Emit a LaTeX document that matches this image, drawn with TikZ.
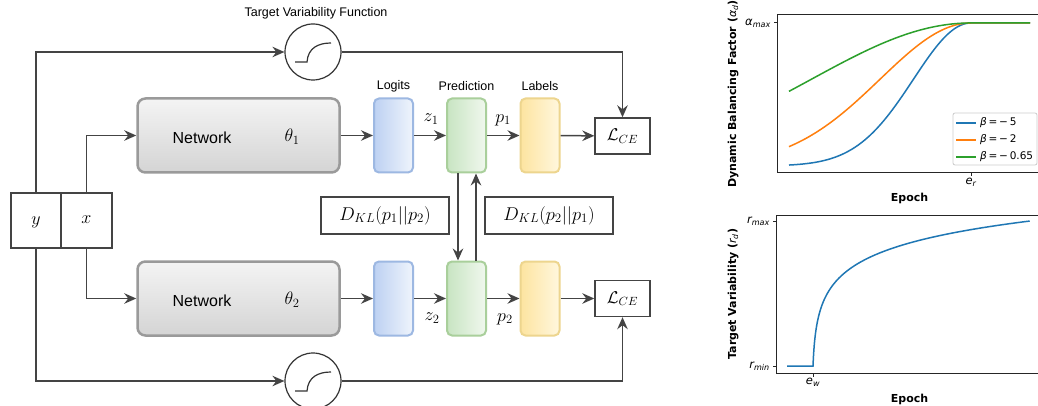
\RequirePackage{fix-cm}
\documentclass[tikz,border=0pt]{standalone}
\usepackage{fontspec}
\usetikzlibrary{arrows.meta}
\newfontfamily\hv{Liberation Sans}
\newfontfamily\djv{DejaVu Sans}
\definecolor{conn}{HTML}{444444}
\definecolor{netdraw}{HTML}{9A9A9A}
\definecolor{nettop}{HTML}{F4F4F4}
\definecolor{netbot}{HTML}{D4D4D4}
\definecolor{bluedraw}{HTML}{9DB8E2}
\definecolor{blueL}{HTML}{BDD1F2}
\definecolor{blueR}{HTML}{EFF4FC}
\definecolor{greendraw}{HTML}{A9CF9B}
\definecolor{greenL}{HTML}{C8E4C2}
\definecolor{greenR}{HTML}{F0F8EE}
\definecolor{yeldraw}{HTML}{EDD58E}
\definecolor{yelL}{HTML}{FDE4A0}
\definecolor{yelR}{HTML}{FFF7DE}
\definecolor{mplblue}{HTML}{1F77B4}
\definecolor{mplorange}{HTML}{FF7F0E}
\definecolor{mplgreen}{HTML}{2CA02C}
\tikzset{
  conn/.style={draw=conn, line width=1.5pt, -{Stealth[length=12pt,width=10.5pt,inset=4pt]}},
  netbox/.style={rectangle, rounded corners=8pt, draw=netdraw, line width=2.5pt,
    top color=nettop, bottom color=netbot, minimum width=202pt, minimum height=74pt},
  smallbox/.style={rectangle, rounded corners=5pt, line width=2pt, minimum width=39pt, minimum height=74pt},
  logitbox/.style={smallbox, draw=bluedraw, left color=blueL, right color=blueR},
  predbox/.style={smallbox, draw=greendraw, left color=greenL, right color=greenR},
  labelbox/.style={smallbox, draw=yeldraw, left color=yelL, right color=yelR},
  plainbox/.style={rectangle, draw=conn, line width=1.4pt, fill=white, inner sep=0pt},
  mathlbl/.style={font=\fontsize{18}{20}\selectfont, inner sep=0pt},
  sanslbl/.style={font=\hv\fontsize{12.5}{14}\selectfont, inner sep=0pt},
  netlbl/.style={font=\hv\fontsize{16}{18}\selectfont, inner sep=0pt},
  funccirc/.style={circle, draw=black!80, line width=1.2pt, fill=white, minimum size=56pt, inner sep=0pt},
  stepcurve/.style={draw=black!80, line width=1.2pt},
  axlbl/.style={font=\djv\bfseries\fontsize{11}{13}\selectfont, inner sep=0pt},
  ticklbl/.style={font=\djv\fontsize{11.5}{13}\selectfont, inner sep=0pt},
  leglbl/.style={font=\djv\fontsize{10.5}{12}\selectfont, inner sep=0pt, anchor=west},
  spine/.style={draw=black!85, line width=1pt},
  curve/.style={line width=1.5pt},
}
\begin{document}
\begin{tikzpicture}[x=1pt,y=-1pt]
\useasboundingbox (0,0) rectangle (1038,406);
\fill[white] (0,0) rectangle (1038,406);

% ---------- left diagram ----------
\node[plainbox, minimum width=50pt, minimum height=55pt] (ycell) at (36,220.5) {};
\node[plainbox, minimum width=51pt, minimum height=55pt] (xcell) at (86.5,220.5) {};
\node[mathlbl] (ytext) at (36,222) {$y$};
\node[mathlbl] (xtext) at (86.5,220) {$x$};

\node[netbox] (net1) at (238.5,135.5) {};
\node[netbox] (net2) at (238.5,298.5) {};
\node[netlbl] (nt1) at (202,138) {Network};
\node[netlbl] (nt2) at (202,301) {Network};
\node[mathlbl] (th1) at (292,137) {$\theta_1$};
\node[mathlbl] (th2) at (292,300) {$\theta_2$};

\node[logitbox] (lg1) at (393.5,135.5) {};
\node[predbox] (pr1) at (466.5,135.5) {};
\node[labelbox] (lb1) at (540,135.5) {};
\node[logitbox] (lg2) at (393.5,298.5) {};
\node[predbox] (pr2) at (466.5,298.5) {};
\node[labelbox] (lb2) at (540,298.5) {};

\node[sanslbl] (tlg) at (393.5,86) {Logits};
\node[sanslbl] (tpr) at (466.5,86) {Prediction};
\node[sanslbl] (tlb) at (540,86) {Labels};
\node[sanslbl] (title) at (316,13) {Target Variability Function};

\node[plainbox, minimum width=55pt, minimum height=36pt] (lce1) at (622.5,136) {\fontsize{17}{19}\selectfont$\mathcal{L}_{CE}$};
\node[plainbox, minimum width=55pt, minimum height=36pt] (lce2) at (622.5,298.5) {\fontsize{17}{19}\selectfont$\mathcal{L}_{CE}$};

\node[plainbox, minimum width=128pt, minimum height=37pt] (kl1) at (385,215.5) {\fontsize{18.5}{20}\selectfont$D_{KL}(p_1||p_2)$};
\node[plainbox, minimum width=128pt, minimum height=37pt] (kl2) at (549,215.5) {\fontsize{18.5}{20}\selectfont$D_{KL}(p_2||p_1)$};

\node[mathlbl] (z1) at (431,119) {$z_1$};
\node[mathlbl] (p1) at (503,120) {$p_1$};
\node[mathlbl] (z2) at (432,318) {$z_2$};
\node[mathlbl] (p2) at (505,319) {$p_2$};

\node[funccirc] (circ1) at (313,52) {};
\node[funccirc] (circ2) at (313,381) {};
\begin{scope}[shift={(circ1.center)}]
  \draw[stepcurve] (-18,10) -- (-6,10) .. controls (-5,-4) and (5,-9) .. (18,-9);
\end{scope}
\begin{scope}[shift={(circ2.center)}]
  \draw[stepcurve] (-18,10) -- (-6,10) .. controls (-5,-4) and (5,-9) .. (18,-9);
\end{scope}

% connectors
\draw[conn] (net1) -- (lg1);
\draw[conn] (lg1) -- (pr1);
\draw[conn] (pr1) -- (lb1);
\draw[conn] (lb1) -- (lce1);
\draw[conn] (net2) -- (lg2);
\draw[conn] (lg2) -- (pr2);
\draw[conn] (pr2) -- (lb2);
\draw[conn] (lb2) -- (lce2);
\draw[conn] ([xshift=-8.5pt]pr1.south) -- ([xshift=-8.5pt]pr2.north);
\draw[conn] ([xshift=9.5pt]pr2.north) -- ([xshift=9.5pt]pr1.south);
\draw[conn] (xcell.north) |- (net1);
\draw[conn] (xcell.south) |- (net2);
\draw[conn] (ycell.north) |- (circ1);
\draw[conn] (circ1) -| (lce1);
\draw[conn] (ycell.south) |- (circ2);
\draw[conn] (circ2) -| (lce2);

% ---------- top plot ----------
\draw[curve, mplblue] plot[domain=0:1, samples=80] ({789+182*\x},{166-143*exp(-5*(1-\x)^2)}) -- (1030,23);
\draw[curve, mplorange] plot[domain=0:1, samples=80] ({789+182*\x},{166-143*exp(-2*(1-\x)^2)}) -- (1030,23);
\draw[curve, mplgreen] plot[domain=0:1, samples=80] ({789+182*\x},{166-143*exp(-0.65*(1-\x)^2)}) -- (1030,23);
\draw[spine] (1042,15) -- (777,15) -- (777,173) -- (1042,173);
\draw[spine] (777,23) -- (773.5,23);
\draw[spine] (971,173) -- (971,176.5);
\node[ticklbl, anchor=east] (amax) at (771,23) {\itshape α\textsubscript{max}};
\node[ticklbl, anchor=north] (er) at (971,178) {\itshape e\textsubscript{r}};
\node[axlbl] (ep1) at (909.5,198) {Epoch};
\node[axlbl, rotate=90] (yl1) at (733,94) {Dynamic Balancing Factor ({\mdseries\itshape α\textsubscript{d}})};
% legend
\draw[rounded corners=2pt, draw=black!20, fill=white, line width=0.8pt] (953,113) rectangle (1037,165);
\draw[curve, mplblue] (956,123) -- (976,123);
\draw[curve, mplorange] (956,140) -- (976,140);
\draw[curve, mplgreen] (956,157) -- (976,157);
\node[leglbl] (lg-a) at (980,123) {{\itshape β}\,=\,−\,5};
\node[leglbl] (lg-b) at (980,140) {{\itshape β}\,=\,−\,2};
\node[leglbl] (lg-c) at (980,157) {{\itshape β}\,=\,−\,0.65};

% ---------- bottom plot ----------
\draw[curve, mplblue] (787,366) -- (813,366) -- plot[domain=0:1, samples=90] ({813+217*\x^3},{366-145*ln(1+200*\x^3)/ln(201)});
\draw[spine] (1042,215) -- (776,215) -- (776,373) -- (1042,373);
\draw[spine] (776,221) -- (772.5,221);
\draw[spine] (776,366) -- (772.5,366);
\draw[spine] (813,373) -- (813,376.5);
\node[ticklbl, anchor=east] (rmax) at (770,221) {\itshape r\textsubscript{max}};
\node[ticklbl, anchor=east] (rmin) at (770,366) {\itshape r\textsubscript{min}};
\node[ticklbl, anchor=north] (ew) at (813,378) {\itshape e\textsubscript{w}};
\node[axlbl] (ep2) at (909.5,399) {Epoch};
\node[axlbl, rotate=90] (yl2) at (733,294) {Target Variability ({\mdseries\itshape r\textsubscript{d}})};
\end{tikzpicture}
\end{document}
